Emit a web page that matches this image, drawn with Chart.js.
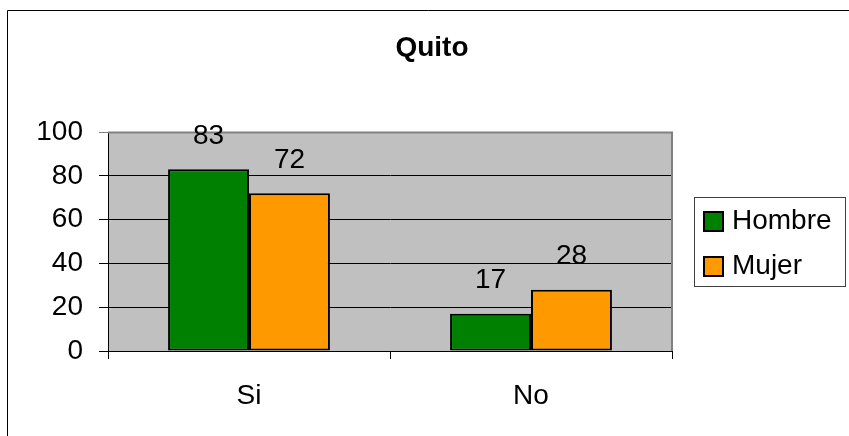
<!DOCTYPE html>
<html>
<head>
<meta charset="utf-8">
<script src="https://cdn.jsdelivr.net/npm/chart.js@4/dist/chart.umd.min.js"></script>
<style>
  html, body { margin: 0; padding: 0; background: #fff; }
  #wrap { width: 849px; height: 436px; }
</style>
</head>
<body>
<div id="wrap"><canvas id="quitoChart" width="849" height="436"></canvas></div>
<script>
const categories = ["Si", "No"];
const hombre = [83, 17];
const mujer = [72, 28];
const seriesNames = ["Hombre", "Mujer"];
const yTicks = [0, 20, 40, 60, 80, 100];
const chartTitle = "Quito";

const FONT = "'Liberation Sans', Arial, sans-serif";

// gray plot background, outer frame, title, value labels, legend box
const decorPlugin = {
    id: "decor",
    beforeDraw(chart) {
        const ctx = chart.ctx;
        const a = chart.chartArea;
        ctx.save();
        ctx.fillStyle = "#fff";
        ctx.fillRect(0, 0, chart.width, chart.height);
        ctx.fillStyle = "#C0C0C0";
        ctx.fillRect(a.left, a.top, a.right - a.left, a.bottom - a.top);
        // outer chart frame (only top and left visible)
        ctx.strokeStyle = "#000";
        ctx.lineWidth = 1;
        ctx.beginPath();
        ctx.moveTo(7.5, chart.height);
        ctx.lineTo(7.5, 10.5);
        ctx.lineTo(chart.width, 10.5);
        ctx.stroke();
        ctx.restore();
    },
    beforeDatasetsDraw(chart) {
        const ctx = chart.ctx;
        const a = chart.chartArea;
        ctx.save();
        ctx.strokeStyle = "#808080";
        ctx.lineWidth = 2;
        ctx.beginPath();
        ctx.moveTo(a.left, a.top + 0.5);
        ctx.lineTo(a.right, a.top + 0.5);
        ctx.lineTo(a.right, a.bottom);
        ctx.stroke();
        ctx.restore();
    },
    afterDatasetsDraw(chart) {
        const ctx = chart.ctx;
        ctx.save();
        ctx.fillStyle = "#000";
        ctx.font = "28px " + FONT;
        ctx.textAlign = "center";
        ctx.textBaseline = "middle";
        chart.data.datasets.forEach((ds, i) => {
            chart.getDatasetMeta(i).data.forEach((bar, j) => {
                ctx.fillText(String(ds.data[j]), bar.x, bar.y - 33);
            });
        });

        // title
        ctx.font = "bold 28px " + FONT;
        ctx.fillText(chartTitle, 432, 48);

        // legend
        ctx.strokeStyle = "#404040";
        ctx.lineWidth = 1;
        ctx.strokeRect(694.5, 197.5, 151, 89);
        ctx.font = "28px " + FONT;
        ctx.textAlign = "left";
        const rows = [221, 266];
        chart.data.datasets.forEach((ds, i) => {
            ctx.fillStyle = ds.backgroundColor;
            ctx.fillRect(703, rows[i] - 10, 20, 20);
            ctx.strokeStyle = "#000";
            ctx.lineWidth = 2;
            ctx.strokeRect(704, rows[i] - 9, 19, 19);
            ctx.fillStyle = "#000";
            ctx.fillText(ds.label, 732, rows[i]);
        });
        ctx.restore();
    }
};

const ctx = document.getElementById("quitoChart").getContext("2d");

new Chart(ctx, {
    type: "bar",
    data: {
        labels: categories,
        datasets: [
            {
                label: seriesNames[0],
                data: hombre,
                backgroundColor: "#008000",
                borderColor: "#000",
                borderWidth: 2,
                borderSkipped: false
            },
            {
                label: seriesNames[1],
                data: mujer,
                backgroundColor: "#FF9900",
                borderColor: "#000",
                borderWidth: 2,
                borderSkipped: false
            }
        ]
    },
    options: {
        responsive: false,
        animation: false,
        devicePixelRatio: 1,
        layout: { padding: { left: 0, top: 132, right: 177, bottom: 0 } },
        datasets: { bar: { categoryPercentage: 0.574, barPercentage: 1 } },
        plugins: {
            legend: { display: false },
            title: { display: false },
            tooltip: { enabled: false }
        },
        scales: {
            x: {
                afterFit: (scale) => { scale.height = 85; },
                grid: {
                    drawOnChartArea: false,
                    drawTicks: true,
                    tickLength: 8,
                    color: "#000",
                    offset: true
                },
                border: { color: "#000", width: 1 },
                ticks: {
                    color: "#000",
                    padding: 20,
                    font: { family: FONT, size: 28 }
                }
            },
            y: {
                min: 0,
                max: 100,
                afterFit: (scale) => { scale.width = 108; },
                afterBuildTicks: (scale) => {
                    scale.ticks = yTicks.map(v => ({ value: v }));
                },
                grid: {
                    color: (c) => (c.tick && c.tick.value === 100 ? "#808080" : "#000"),
                    lineWidth: 1,
                    tickLength: 9,
                    drawTicks: true
                },
                border: { color: "#000", width: 1 },
                ticks: {
                    color: "#000",
                    padding: 16,
                    font: { family: FONT, size: 28 }
                }
            }
        }
    },
    plugins: [decorPlugin]
});
</script>
</body>
</html>
